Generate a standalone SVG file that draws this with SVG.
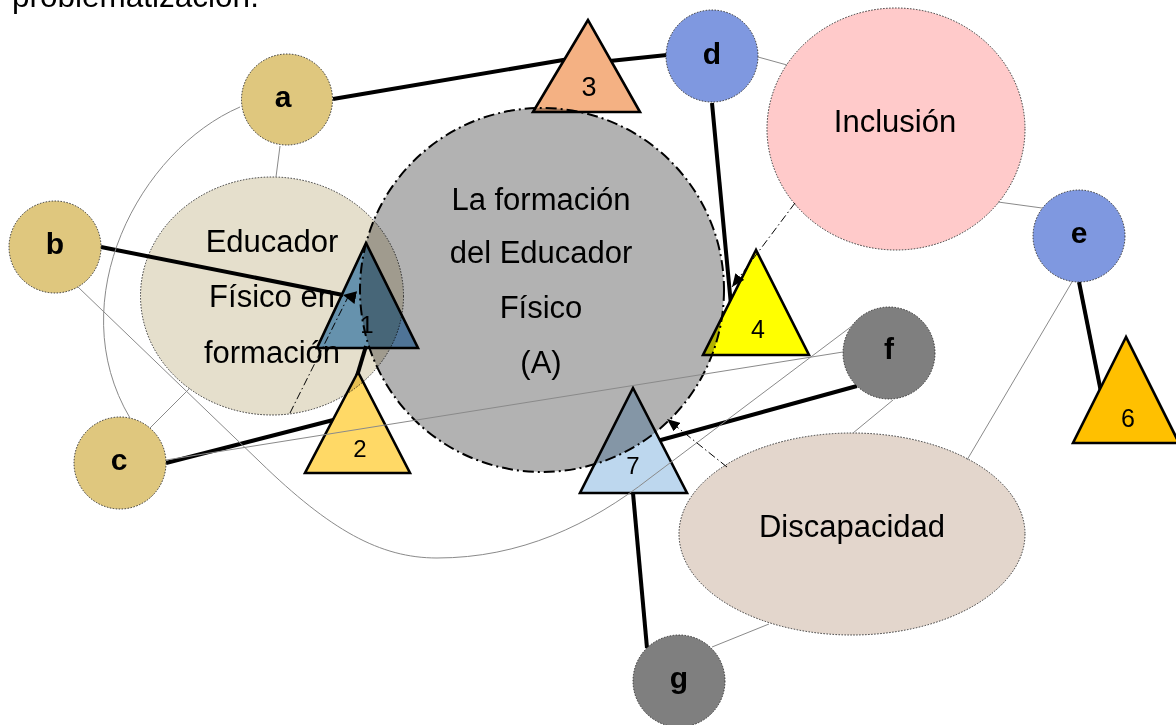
<svg xmlns="http://www.w3.org/2000/svg" width="1176" height="725" viewBox="0 0 1176 725">
<style>
text{font-family:"Liberation Sans",Arial,sans-serif;fill:#000}
.lbl{font-size:30px;font-weight:bold;text-anchor:middle}
.big{font-size:31px;text-anchor:middle}
.num{font-size:24px;text-anchor:middle}
.node{stroke:#333;stroke-width:1;stroke-dasharray:1.5 1.5}
.tri{stroke:#000;stroke-width:2.6;stroke-linejoin:miter}
.thick{stroke:#000;stroke-width:4;fill:none;stroke-linecap:butt}
.thin{stroke:#8a8a8a;stroke-width:1;fill:none}
.dd{stroke:#000;stroke-width:1;fill:none;stroke-dasharray:8 3 1.5 3}
</style>
<defs>
<marker id="ah" viewBox="0 0 13 11" refX="13" refY="5.5" markerWidth="13" markerHeight="11" markerUnits="userSpaceOnUse" orient="auto"><path d="M0,0 L13,5.5 L0,11 z" fill="#000"/></marker>
<marker id="ahRev" viewBox="0 0 13 13" refX="0" refY="6.5" markerWidth="13" markerHeight="13" markerUnits="userSpaceOnUse" orient="auto"><path d="M0,6.5 L13,0 L13,13 z" fill="#000"/></marker>
</defs>
<rect width="1176" height="725" fill="#fff"/>
<text x="12" y="7" style="font-size:31.5px">problematización.</text>

<g id="connectors-strong">
<path class="thick" d="M333,99 L575,58"/>
<path class="thick" d="M600,62 L667,55"/>
<path class="thick" d="M101,247 L343,295" marker-end="url(#ahRev)"/>
<path class="thick" d="M166,463 L345,417"/>
<path class="thick" d="M366,346 L357,376"/>
<path class="thick" d="M712,103 L731,305"/>
<path class="thick" d="M1079,282 L1101,392"/>
<path class="thick" d="M857,386 L650,443"/>
<path class="thick" d="M647,648 L633,493"/>
</g>

<g id="node-t2"><polygon class="tri" points="358,372 305,473 410,473" fill="#ffd966"/><text class="num" x="360" y="457">2</text></g>
<g id="node-t3"><polygon class="tri" points="588,20 533,112 640,112" fill="#f4b183"/><text class="num" x="589" y="96" style="font-size:27px">3</text></g>
<g id="node-t4"><polygon class="tri" points="756,250 703,355 809,355" fill="#ffff00"/><text class="num" x="758" y="338" style="font-size:25px">4</text></g>
<g id="node-t6"><polygon class="tri" points="1126,337 1073,443 1179,443" fill="#ffc000"/><text class="num" x="1128" y="427" style="font-size:25px">6</text></g>
<g id="node-t7"><polygon class="tri" points="633,388 580,493 687,493" fill="#bdd7ee"/><text class="num" x="633" y="474">7</text></g>

<g id="node-a"><circle class="node" cx="287" cy="99.5" r="45.5" fill="#dfc77e"/><text class="lbl" x="283" y="107">a</text></g>
<g id="node-b"><circle class="node" cx="55" cy="247" r="46" fill="#dfc77e"/><text class="lbl" x="55" y="254">b</text></g>
<g id="node-c"><circle class="node" cx="120" cy="463" r="46" fill="#dfc77e"/><text class="lbl" x="119" y="470">c</text></g>
<g id="node-d"><circle class="node" cx="712" cy="56" r="46" fill="#7f98e0"/><text class="lbl" x="712" y="64">d</text></g>
<g id="node-e"><circle class="node" cx="1079" cy="236" r="46" fill="#7f98e0"/><text class="lbl" x="1079" y="243">e</text></g>
<g id="node-f"><circle class="node" cx="889" cy="353" r="46" fill="#7f7f7f"/><text class="lbl" x="889" y="359">f</text></g>
<g id="node-g"><circle class="node" cx="679" cy="681" r="46" fill="#7f7f7f"/><text class="lbl" x="679" y="688">g</text></g>

<g id="node-inclusion"><ellipse class="node" cx="896" cy="129" rx="129" ry="121" fill="#ffcaca"/><text class="big" x="895" y="132">Inclusión</text></g>
<g id="node-discapacidad"><ellipse class="node" cx="852" cy="534" rx="173" ry="101" fill="#e3d6cc"/><text class="big" x="852" y="537">Discapacidad</text></g>

<g id="node-educador">
<ellipse class="node" cx="272" cy="296" rx="131.5" ry="119" fill="#e5dfcc" style="mix-blend-mode:multiply"/>
<text class="big" x="272" y="252">Educador</text>
<text class="big" x="272" y="307">Físico en</text>
<text class="big" x="272" y="363">formación</text>
</g>

<g id="node-t1"><polygon class="tri" points="366,243 317,348 418,348" fill="#72a7d8" style="mix-blend-mode:multiply"/><text class="num" x="367" y="333">1</text></g>

<g id="node-A">
<circle cx="542" cy="290" r="182" fill="#000" fill-opacity="0.3" stroke="#000" stroke-width="2" stroke-dasharray="11 4 2 4"/>
<text class="big" x="541" y="210">La formación</text>
<text class="big" x="541" y="263">del Educador</text>
<text class="big" x="541" y="318">Físico</text>
<text class="big" x="541" y="373">(A)</text>
</g>

<g id="connectors-thin">
<path class="thin" d="M280,146 L276,177"/>
<path class="thin" d="M240,107 C140,150 60,300 130,418"/>
<path class="thin" d="M78,287 L260,462 C330,530 380,558 437,558 C520,558 590,525 650,478 L852,326"/>
<path class="thin" d="M150,428 L190,388"/>
<path class="thin" d="M166,460 L843,352"/>
<path class="thin" d="M893,400 L853,433"/>
<path class="thin" d="M758,57 L787,65"/>
<path class="thin" d="M998,202 L1042,208"/>
<path class="thin" d="M1072,282 L967,460"/>
<path class="thin" d="M712,647 L769,624"/>
<path class="dd" d="M290,413 L350,293"/>
<path class="dd" d="M795,203 L732,287" marker-end="url(#ah)"/>
<path class="dd" d="M727,467 L667,419" marker-end="url(#ah)"/>
</g>
</svg>
